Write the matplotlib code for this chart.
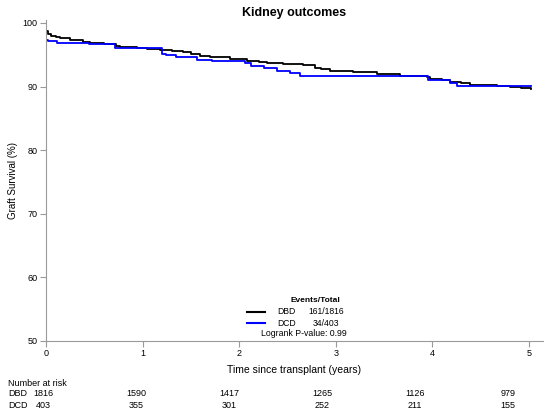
import matplotlib
matplotlib.use("Agg")
import matplotlib.pyplot as plt
import numpy as np
from matplotlib.transforms import blended_transform_factory

plt.rcParams['font.family'] = ['Liberation Sans', 'DejaVu Sans']

# Kaplan-Meier step data (years, survival %)
dbd_t = [0.00, 0.02, 0.05, 0.10, 0.15, 0.25, 0.38, 0.46, 0.60, 0.72, 0.77, 0.94, 1.05, 1.18, 1.30,
         1.42, 1.50, 1.59, 1.70, 1.90, 2.08, 2.20, 2.29, 2.45, 2.66, 2.78, 2.85, 2.94, 3.18, 3.43,
         3.66, 3.94, 3.98, 4.10, 4.18, 4.30, 4.39, 4.67, 4.80, 4.92, 5.02]
dbd_s = [98.7, 98.3, 98.0, 97.8, 97.6, 97.3, 96.95, 96.8, 96.65, 96.45, 96.2, 96.1, 95.95, 95.8, 95.65,
         95.45, 95.15, 94.8, 94.6, 94.4, 94.05, 93.85, 93.7, 93.6, 93.4, 93.0, 92.7, 92.5, 92.3, 91.95,
         91.65, 91.5, 91.25, 91.0, 90.8, 90.5, 90.3, 90.1, 89.9, 89.7, 89.6]

dcd_t = [0.00, 0.02, 0.11, 0.44, 0.71, 1.20, 1.24, 1.35, 1.56, 1.72, 2.06, 2.12, 2.26, 2.39, 2.53,
         2.63, 3.95, 4.18, 4.25, 5.02]
dcd_s = [97.4, 97.2, 96.9, 96.65, 96.0, 95.2, 94.9, 94.6, 94.25, 94.0, 93.7, 93.3, 92.85, 92.45, 92.1,
         91.7, 91.1, 90.5, 90.05, 90.05]

groups = ["DBD", "DCD"]
events = ["161/1816", "34/403"]
colors = ["black", "#0000ff"]
risk_times = [0, 1, 2, 3, 4, 5]
risk_dbd = [1816, 1590, 1417, 1265, 1126, 979]
risk_dcd = [403, 355, 301, 252, 211, 155]
pvalue = "0.99"

W, H = 547, 412
fig = plt.figure(figsize=(W / 100, H / 100), dpi=100)
L, R, B, T = 46, 543, 341, 20
ax = fig.add_axes([L / W, 1 - B / H, (R - L) / W, (B - T) / H])

ax.step(dbd_t, dbd_s, where='post', color=colors[0], lw=1.3)
ax.step(dcd_t, dcd_s, where='post', color=colors[1], lw=1.3)

ax.set_xlim(0, 5.145)
ax.set_ylim(50, 100.47)
ax.set_xticks(risk_times)
ax.set_yticks([50, 60, 70, 80, 90, 100])
for s in ['top', 'right']:
    ax.spines[s].set_visible(False)
for s in ['left', 'bottom']:
    ax.spines[s].set_color('#9a9a9a')
    ax.spines[s].set_linewidth(0.8)
ax.tick_params(axis='both', colors='#9a9a9a', labelcolor='black', labelsize=6.5, length=4, width=0.8, pad=2)
ax.set_xlabel("Time since transplant (years)", fontsize=7.5, labelpad=5)
ax.set_ylabel("Graft Survival (%)", fontsize=7)
ax.yaxis.set_label_coords(-(L - 18) / (R - L), 0.5)
fig.text(294 / W, 1 - 13 / H, "Kidney outcomes", ha='center', va='center', fontsize=9, fontweight='bold')

# legend block
tr = ax.transAxes
def ax_xy(px, py):
    return ((px - L) / (R - L), (B - py) / (B - T))
ax.text(*ax_xy(315, 301), "Events/Total", ha='center', va='center', fontsize=6, fontweight='bold', transform=tr)
for i, (g, e, c) in enumerate(zip(groups, events, colors)):
    py = 312 + i * 11
    x0, y0 = ax_xy(247, py)
    x1, _ = ax_xy(265, py)
    ax.plot([x0, x1], [y0, y0], color=c, lw=1.5, transform=tr)
    ax.text(*ax_xy(277, py), g, ha='left', va='center', fontsize=6.2, transform=tr)
    ax.text(*ax_xy(326, py), e, ha='center', va='center', fontsize=6.2, transform=tr)
ax.text(*ax_xy(304, 333), f"Logrank P-value: {pvalue}", ha='center', va='center', fontsize=6.3, transform=tr)

# number at risk table
bt = blended_transform_factory(ax.transData, fig.transFigure)
fig.text(8 / W, 1 - 383 / H, "Number at risk", ha='left', va='center', fontsize=6.5)
fig.text(8 / W, 1 - 394 / H, "DBD", ha='left', va='center', fontsize=6.5)
fig.text(8 / W, 1 - 405 / H, "DCD", ha='left', va='center', fontsize=6.5)
for t, a, b in zip(risk_times, risk_dbd, risk_dcd):
    xt = -0.03 + t * 0.963
    ax.text(xt, 1 - 394 / H, str(a), ha='center', va='center', fontsize=6.5, transform=bt, clip_on=False)
    ax.text(xt, 1 - 405 / H, str(b), ha='center', va='center', fontsize=6.5, transform=bt, clip_on=False)

fig.savefig("out.png", dpi=100)
